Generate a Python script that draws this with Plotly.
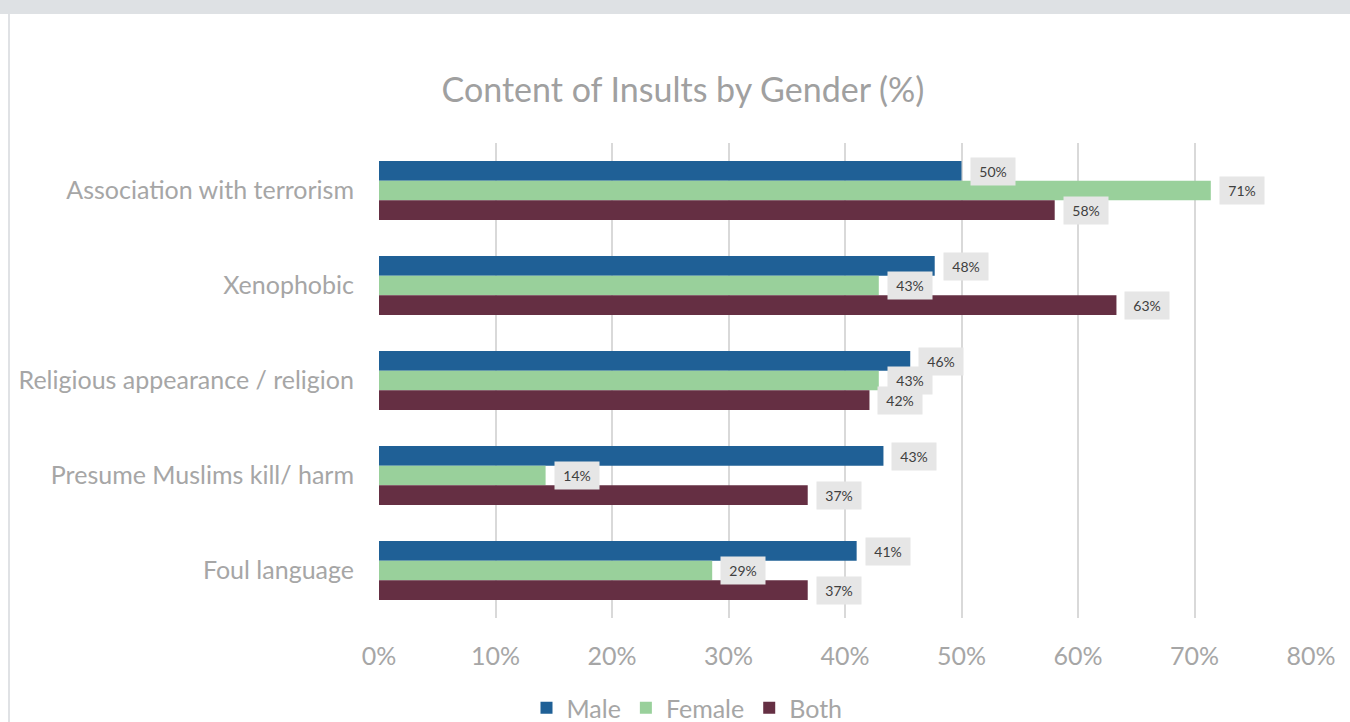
import plotly.graph_objects as go

categories = ["Association with terrorism", "Xenophobic", "Religious appearance / religion",
              "Presume Muslims kill/ harm", "Foul language"]
male = [50.0, 47.7, 45.6, 43.3, 41.0]
female = [71.4, 42.9, 42.9, 14.3, 28.6]
both = [58.0, 63.3, 42.1, 36.8, 36.8]
series_names = ["Male", "Female", "Both"]
series_colors = ["#1F6096", "#99D09B", "#652F43"]
x_ticks = [0, 10, 20, 30, 40, 50, 60, 70, 80]
x_tick_text = ["0%", "10%", "20%", "30%", "40%", "50%", "60%", "70%", "80%"]

FONT = "Lato"
W, H = 1350, 722
L, R, T, B = 379, 39, 143, 104
pw, ph = W - L - R, H - T - B

def px_x(X):
    return (X - L) / pw

def px_y(Y):
    return (H - B - Y) / ph

fig = go.Figure()
for name, vals, col in zip(series_names, [male, female, both], series_colors):
    fig.add_trace(go.Bar(y=categories, x=vals, name=name, orientation="h",
                         marker=dict(color=col, line=dict(width=0))))

shifts = [19.5, 0, -19.5]
annotations = []
for vals, ys in zip([male, female, both], shifts):
    for c, v in zip(categories, vals):
        annotations.append(dict(x=v, y=c, xref="x", yref="y", text=f"{round(v)}%",
                                showarrow=False, xanchor="left", yanchor="middle",
                                xshift=8, yshift=ys, bgcolor="#E6E6E6", borderpad=5,
                                width=34, height=17,
                                font=dict(family=FONT, size=14, color="#404040")))

fig.update_layout(
    width=W, height=H,
    margin=dict(l=L, r=R, t=T, b=B, autoexpand=False),
    paper_bgcolor="white", plot_bgcolor="white",
    barmode="group", bargap=0.38, bargroupgap=0,
    title=dict(text="Content of Insults by Gender (%)", x=683 / W, xanchor="center",
               y=1 - 90 / H, yanchor="middle", yref="container",
               font=dict(family=FONT, size=34, color="#A0A0A0")),
    xaxis=dict(range=[0, 80], tickvals=x_ticks, ticktext=x_tick_text, showgrid=True,
               gridcolor="#D9D9D9", gridwidth=2, zeroline=False, showline=False,
               ticks="", ticklabelstandoff=21,
               tickfont=dict(family=FONT, size=25, color="#A6A6A6")),
    yaxis=dict(autorange="reversed", showgrid=False, zeroline=False, showline=False,
               ticks="", ticklabelstandoff=24,
               tickfont=dict(family=FONT, size=25, color="#A6A6A6")),
    legend=dict(orientation="h", x=687 / W, xanchor="center", xref="container",
                y=1 - 708 / H, yanchor="middle", yref="container",
                font=dict(family=FONT, size=25, color="#A6A6A6"), traceorder="normal"),
    annotations=annotations,
    shapes=[
        dict(type="rect", xref="paper", yref="paper", x0=px_x(0), x1=px_x(W),
             y0=px_y(14), y1=px_y(0), fillcolor="#DEE1E4", line=dict(width=0), layer="above"),
        dict(type="rect", xref="paper", yref="paper", x0=px_x(8), x1=px_x(10),
             y0=px_y(H), y1=px_y(14), fillcolor="#E0E2E5", line=dict(width=0), layer="above"),
    ],
)

fig.write_html("out.html", post_script="document.body.style.margin='0';",
               config={"displayModeBar": False})
